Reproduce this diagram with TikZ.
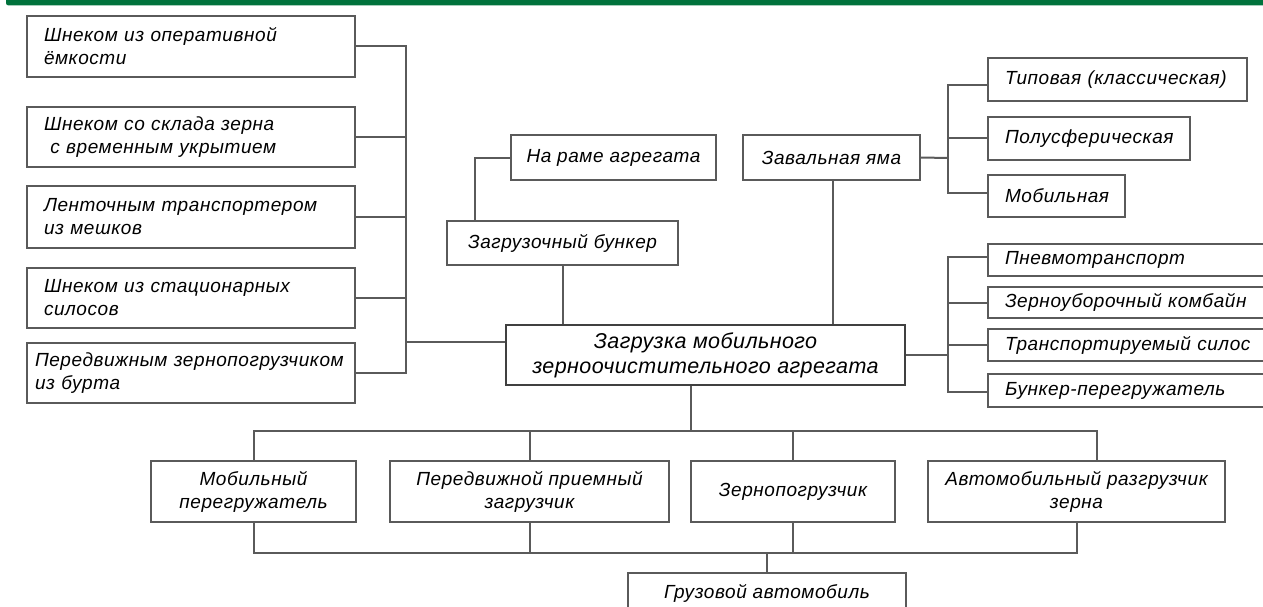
\documentclass[tikz,border=0pt]{standalone}
\usepackage{fontspec}
\setmainfont{Liberation Sans}[LetterSpace=3]
\begin{document}
\begin{tikzpicture}[x=1pt,y=-1pt,
    box/.style={draw=linegray, line width=1.8pt, inner sep=0pt, font=\itshape\fontsize{19}{23}\selectfont},
    lbox/.style={box, align=left, inner xsep=17pt},
    cbox/.style={box, align=center},
    link/.style={draw=linegray, line width=2pt}]
        \definecolor{linegray}{RGB}{90,90,90}
        \definecolor{bargreen}{RGB}{0,114,60}
            \useasboundingbox (0,0) rectangle (1263,607);
            \clip (0,0) rectangle (1263,607);
            \fill[bargreen, rounded corners=2.5pt] (6,-3) rectangle (1275,5.5);

            % left group
            \node[lbox, text width=294pt, minimum height=61pt] (l1) at (191, 46.5) {Шнеком из оперативной\\ёмкости};
            \node[lbox, text width=294pt, minimum height=60pt] (l2) at (191, 137) {Шнеком со склада зерна\\\ с временным укрытием};
            \node[lbox, text width=294pt, minimum height=62pt] (l3) at (191, 217) {Ленточным транспортером\\из мешков};
            \node[lbox, text width=294pt, minimum height=60pt] (l4) at (191, 298) {Шнеком из стационарных\\силосов};
            \node[lbox, inner xsep=8pt, text width=312pt, minimum height=60pt] (l5) at (191, 373) {Передвижным зернопогрузчиком\\из бурта};

            % centre
            \node[cbox, draw=black!75, line width=2.6pt, minimum width=399pt, minimum height=60pt,
                  font=\itshape\fontsize{21.5}{25}\selectfont\addfontfeatures{LetterSpace=2}] (main) at (705.5, 355) {Загрузка мобильного\\зерноочистительного агрегата};

            % top
            \node[cbox, minimum width=205pt, minimum height=45pt] (rame) at (613.5, 157.5) {На раме агрегата};
            \node[cbox, minimum width=231pt, minimum height=44pt] (bunker) at (562.5, 243) {Загрузочный бункер};
            \node[cbox, minimum width=177pt, minimum height=45pt] (zaval) at (831.5, 157.5) {Завальная яма};
            \node[lbox, text width=225pt, minimum height=43pt] (tip) at (1117.5, 79.5) {Типовая (классическая)};
            \node[lbox, text width=168pt, minimum height=43pt] (pol) at (1089, 138.5) {Полусферическая};
            \node[lbox, text width=103pt, minimum height=42pt] (mobp) at (1056.5, 196) {Мобильная};

            % right
            \node[lbox, text width=268pt, minimum height=32pt] (pn) at (1139, 260) {Пневмотранспорт};
            \node[lbox, text width=268pt, minimum height=31pt] (zk) at (1139, 302.5) {Зерноуборочный комбайн};
            \node[lbox, text width=268pt, minimum height=32pt] (ts) at (1139, 345) {Транспортируемый силос};
            \node[lbox, text width=268pt, minimum height=33pt] (bp) at (1139, 390.5) {Бункер-перегружатель};

            % bottom
            \node[cbox, minimum width=205pt, minimum height=61pt] (mob) at (253.5, 491.5) {Мобильный\\перегружатель};
            \node[cbox, minimum width=279pt, minimum height=61pt] (per) at (529.5, 491.5) {Передвижной приемный\\загрузчик};
            \node[cbox, minimum width=204pt, minimum height=61pt] (zp) at (793, 491.5) {Зернопогрузчик};
            \node[cbox, minimum width=297pt, minimum height=61pt] (avto) at (1076.5, 491.5) {Автомобильный разгрузчик\\зерна};
            \node[cbox, minimum width=278pt, minimum height=40pt] (gruz) at (767, 593) {Грузовой автомобиль};

            \coordinate (lbus) at (406, 342);
            \coordinate (zbus) at (948, 158);
            \coordinate (rbus) at (948, 355);
            \coordinate (tbus) at (691, 431);
            \coordinate (bbus) at (767, 553);

            \draw[link] (l1.east) -| (l5.east -| lbus) -- (l5.east);
            \foreach \n in {l2,l3,l4}
                \draw[link] (\n.east) -- (\n.east -| lbus);
            \draw[link] ([yshift=13pt]main.west) -- (lbus);

            \draw[link] (rame.west) -| ([xshift=-87.5pt]bunker.north);
            \draw[link] (bunker.south) -- (bunker.south |- main.north);
            \draw[link] ([xshift=1.5pt]zaval.south) -- ([xshift=1.5pt]zaval.south |- main.north);
            \draw[link] (zaval.east) -- (zbus);
            \draw[link] ([yshift=-5.5pt]tip.west) -| (zbus) |- ([yshift=3pt]mobp.west);
            \draw[link] (pol.west) -- (pol.west -| zbus);

            \draw[link] (main.east) -- (rbus);
            \draw[link] ([yshift=3pt]pn.west) -| (rbus) |- ([yshift=-1.5pt]bp.west);
            \foreach \n in {zk,ts}
                \draw[link] (\n.west) -- (\n.west -| rbus);

            \draw[link] ([xshift=-14.5pt]main.south) -- (tbus);
            \draw[link] (mob.north) |- ([xshift=20.5pt]avto.north |- tbus) -- ([xshift=20.5pt]avto.north);
            \foreach \n in {per,zp}
                \draw[link] (\n.north) -- (\n.north |- tbus);
            \draw[link] (mob.south) |- (avto.south |- bbus) -- (avto.south);
            \foreach \n in {per,zp}
                \draw[link] (\n.south) -- (\n.south |- bbus);
            \draw[link] (bbus) -- (gruz.north);
        \end{tikzpicture}
\end{document}
